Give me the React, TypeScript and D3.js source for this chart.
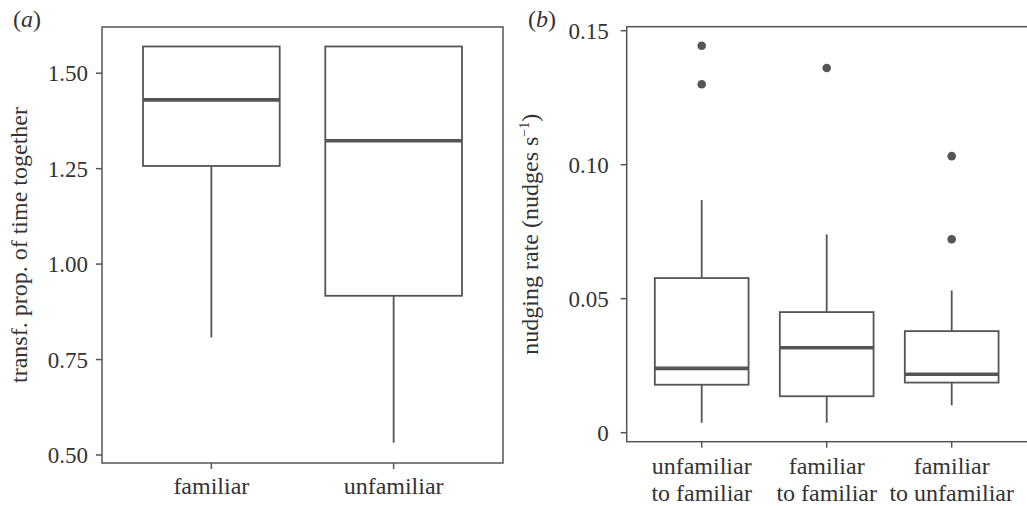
import React from 'react';
import * as d3 from 'd3';

// panel (a): transformed proportion of time together
const groupsA = ['familiar', 'unfamiliar'];
const lowerA = [0.808, 0.532];
const q1A = [1.257, 0.917];
const medianA = [1.43, 1.323];
const q3A = [1.57, 1.57];
const upperA = [1.57, 1.57];
const ticksA = [0.5, 0.75, 1.0, 1.25, 1.5];

// panel (b): nudging rate
const groupsB = [
  ['unfamiliar', 'to familiar'],
  ['familiar', 'to familiar'],
  ['familiar', 'to unfamiliar'],
];
const lowerB = [0.0037, 0.0037, 0.0102];
const q1B = [0.0179, 0.0136, 0.0187];
const medianB = [0.024, 0.0317, 0.0218];
const q3B = [0.0577, 0.045, 0.0379];
const upperB = [0.0868, 0.074, 0.0531];
const outliersB = [[0.1444, 0.13], [0.1361], [0.1032, 0.0722]];
const ticksB = [0, 0.05, 0.1, 0.15];
const tickLabelsB = ['0', '0.05', '0.10', '0.15'];

const W = 1027;
const H = 506;
const LINE = '#555555';
const TEXT = '#333333';
const FONT = '"Liberation Serif", "Times New Roman", serif';
const FS_TICK = 23;
const FS = 24;

type BoxProps = {
  cx: number;
  hw: number;
  y: d3.ScaleLinear<number, number>;
  lo: number;
  q1: number;
  med: number;
  q3: number;
  hi: number;
  out?: number[];
};

const Box = ({ cx, hw, y, lo, q1, med, q3, hi, out = [] }: BoxProps) => (
  <g>
    <line x1={cx} x2={cx} y1={y(q3)} y2={y(hi)} stroke={LINE} strokeWidth={1.8} />
    <line x1={cx} x2={cx} y1={y(q1)} y2={y(lo)} stroke={LINE} strokeWidth={1.8} />
    <rect
      x={cx - hw}
      y={y(q3)}
      width={hw * 2}
      height={y(q1) - y(q3)}
      fill="white"
      stroke={LINE}
      strokeWidth={1.8}
    />
    <line x1={cx - hw} x2={cx + hw} y1={y(med)} y2={y(med)} stroke={LINE} strokeWidth={3.6} />
    {out.map((o, i) => (
      <circle key={i} cx={cx} cy={y(o)} r={4.3} fill={LINE} />
    ))}
  </g>
);

export default function App() {
  // panel a geometry
  const a = { left: 102, right: 503, top: 27, bottom: 463 };
  const yA = d3.scaleLinear().domain([0.479, 1.621]).range([a.bottom, a.top]);
  const xA = d3
    .scaleLinear()
    .domain([0.4, groupsA.length + 0.6])
    .range([a.left, a.right]);
  const hwA = xA(1.375) - xA(1);

  // panel b geometry (right edge runs off the picture)
  const b = { left: 626.7, right: 1028, top: 26.7, bottom: 441.7 };
  const yB = d3.scaleLinear().domain([-0.00336, 0.1515]).range([b.bottom, b.top]);
  const xB = d3
    .scaleLinear()
    .domain([0.4, groupsB.length + 0.6])
    .range([b.left, b.left + (groupsB.length + 0.2) * 125]);
  const hwB = xB(1.375) - xB(1);

  const fmtA = d3.format('.2f');

  return (
    <svg
      width={W}
      height={H}
      style={{ position: 'absolute', left: 0, top: 0, background: 'white' }}
      fontFamily={FONT}
    >
      <rect width={W} height={H} fill="white" />

      {/* ---- panel (a) ---- */}
      <text x={13} y={27} fontSize={FS} fill={TEXT}>
        (<tspan fontStyle="italic">a</tspan>)
      </text>
      <rect
        x={a.left}
        y={a.top}
        width={a.right - a.left}
        height={a.bottom - a.top}
        fill="none"
        stroke={LINE}
        strokeWidth={1.5}
      />
      {ticksA.map((t) => (
        <g key={t}>
          <line x1={a.left - 6} x2={a.left} y1={yA(t)} y2={yA(t)} stroke={LINE} strokeWidth={1.5} />
          <text
            x={a.left - 14}
            y={yA(t)}
            dy="0.35em"
            textAnchor="end"
            fontSize={FS_TICK}
            fill={TEXT}
          >
            {fmtA(t)}
          </text>
        </g>
      ))}
      {groupsA.map((g, i) => (
        <g key={g}>
          <line
            x1={xA(i + 1)}
            x2={xA(i + 1)}
            y1={a.bottom}
            y2={a.bottom + 6}
            stroke={LINE}
            strokeWidth={1.5}
          />
          <text x={xA(i + 1)} y={494} textAnchor="middle" fontSize={FS} fill={TEXT}>
            {g}
          </text>
          <Box
            cx={xA(i + 1)}
            hw={hwA}
            y={yA}
            lo={lowerA[i]}
            q1={q1A[i]}
            med={medianA[i]}
            q3={q3A[i]}
            hi={upperA[i]}
          />
        </g>
      ))}
      <text
        transform={`translate(27,${(a.top + a.bottom) / 2}) rotate(-90)`}
        textAnchor="middle"
        fontSize={FS}
        fill={TEXT}
      >
        transf. prop. of time together
      </text>

      {/* ---- panel (b) ---- */}
      <text x={528} y={27} fontSize={FS} fill={TEXT}>
        (<tspan fontStyle="italic">b</tspan>)
      </text>
      <rect
        x={b.left}
        y={b.top}
        width={b.right - b.left}
        height={b.bottom - b.top}
        fill="none"
        stroke={LINE}
        strokeWidth={1.5}
      />
      {ticksB.map((t, i) => (
        <g key={t}>
          <line x1={b.left - 6} x2={b.left} y1={yB(t)} y2={yB(t)} stroke={LINE} strokeWidth={1.5} />
          <text
            x={b.left - 18}
            y={yB(t)}
            dy="0.35em"
            textAnchor="end"
            fontSize={FS_TICK}
            fill={TEXT}
          >
            {tickLabelsB[i]}
          </text>
        </g>
      ))}
      {groupsB.map((g, i) => (
        <g key={g.join(' ')}>
          <line
            x1={xB(i + 1)}
            x2={xB(i + 1)}
            y1={b.bottom}
            y2={b.bottom + 6}
            stroke={LINE}
            strokeWidth={1.5}
          />
          <text textAnchor="middle" fontSize={FS} fill={TEXT}>
            <tspan x={xB(i + 1)} y={474}>
              {g[0]}
            </tspan>
            <tspan x={xB(i + 1)} y={500.5}>
              {g[1]}
            </tspan>
          </text>
          <Box
            cx={xB(i + 1)}
            hw={hwB}
            y={yB}
            lo={lowerB[i]}
            q1={q1B[i]}
            med={medianB[i]}
            q3={q3B[i]}
            hi={upperB[i]}
            out={outliersB[i]}
          />
        </g>
      ))}
      <text
        transform={`translate(538,${(b.top + b.bottom) / 2}) rotate(-90)`}
        textAnchor="middle"
        fontSize={FS}
        fill={TEXT}
      >
        nudging rate (nudges s
        <tspan fontSize={14} dy={-9}>
          −1
        </tspan>
        <tspan dy={9}>)</tspan>
      </text>
    </svg>
  );
}
